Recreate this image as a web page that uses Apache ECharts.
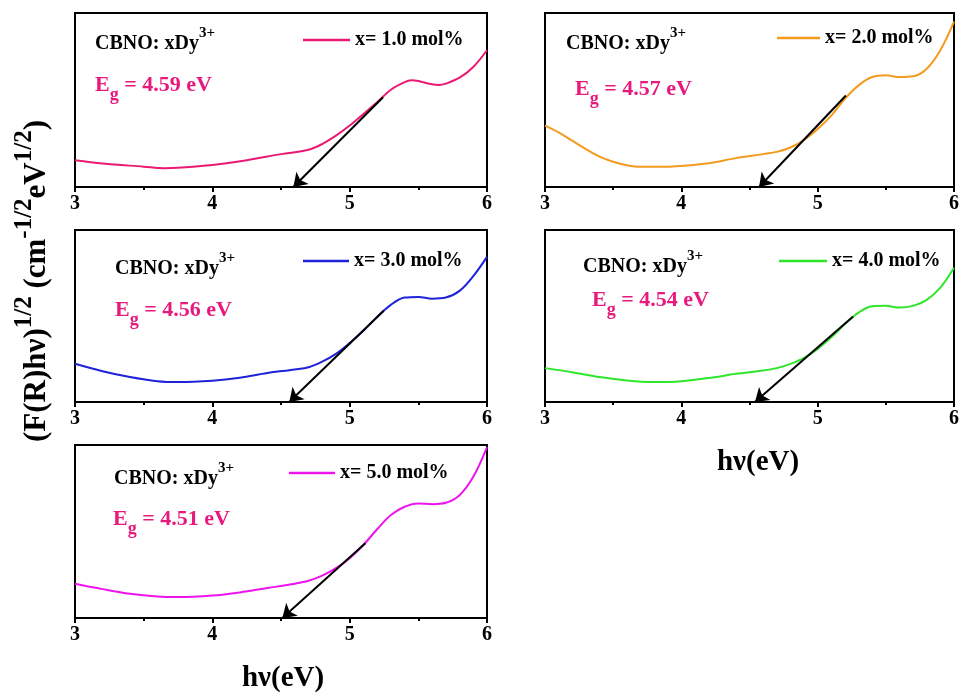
<!DOCTYPE html>
<html>
<head>
<meta charset="utf-8">
<script src="https://cdn.jsdelivr.net/npm/echarts@6/dist/echarts.min.js"></script>
<style>
  html, body { margin: 0; padding: 0; background: #ffffff; }
  #chart { width: 962px; height: 693px; }
</style>
</head>
<body>
<div id="chart"></div>
<script>
// Kubelka-Munk plots, (F(R)hν)^1/2 vs photon energy, for CBNO:xDy3+ phosphors (arbitrary units)
const energy1 = [3.0, 3.2, 3.5, 3.65, 4.0, 4.25, 4.5, 4.7, 4.8, 4.9, 5.0, 5.1, 5.2, 5.3, 5.4, 5.45, 5.5, 5.6, 5.65, 5.7, 5.8, 5.9, 6.0];
const kmf1    = [0.154, 0.135, 0.117, 0.108, 0.127, 0.154, 0.189, 0.214, 0.247, 0.295, 0.353, 0.420, 0.487, 0.559, 0.603, 0.613, 0.609, 0.590, 0.586, 0.594, 0.628, 0.690, 0.786];

const energy2 = [3.0, 3.1, 3.2, 3.3, 3.4, 3.5, 3.6, 3.7, 3.9, 4.0, 4.2, 4.4, 4.6, 4.7, 4.8, 4.9, 5.0, 5.1, 5.2, 5.3, 5.4, 5.5, 5.6, 5.7, 5.8, 5.9, 6.0];
const kmf2    = [0.353, 0.314, 0.266, 0.218, 0.175, 0.145, 0.125, 0.116, 0.116, 0.121, 0.137, 0.166, 0.189, 0.202, 0.227, 0.270, 0.333, 0.410, 0.507, 0.584, 0.632, 0.642, 0.632, 0.636, 0.680, 0.786, 0.950];

const energy3 = [3.0, 3.2, 3.4, 3.6, 3.75, 4.0, 4.2, 4.4, 4.6, 4.7, 4.8, 4.9, 5.0, 5.1, 5.2, 5.3, 5.4, 5.5, 5.6, 5.7, 5.8, 5.9, 6.0];
const kmf3    = [0.222, 0.179, 0.145, 0.121, 0.116, 0.124, 0.141, 0.168, 0.189, 0.202, 0.235, 0.280, 0.343, 0.414, 0.495, 0.565, 0.607, 0.611, 0.601, 0.607, 0.646, 0.732, 0.844];

const energy4 = [3.0, 3.2, 3.4, 3.6, 3.8, 4.0, 4.2, 4.4, 4.6, 4.7, 4.8, 4.9, 5.0, 5.1, 5.2, 5.3, 5.4, 5.5, 5.6, 5.7, 5.8, 5.9, 6.0];
const kmf4    = [0.197, 0.173, 0.145, 0.125, 0.116, 0.121, 0.139, 0.164, 0.183, 0.197, 0.222, 0.257, 0.309, 0.376, 0.453, 0.520, 0.557, 0.559, 0.549, 0.559, 0.594, 0.665, 0.780];

const energy5 = [3.0, 3.2, 3.4, 3.6, 3.75, 4.0, 4.2, 4.4, 4.6, 4.7, 4.8, 4.9, 5.0, 5.1, 5.2, 5.3, 5.4, 5.5, 5.6, 5.7, 5.8, 5.9, 6.0];
const kmf5    = [0.198, 0.167, 0.140, 0.124, 0.121, 0.130, 0.148, 0.173, 0.198, 0.215, 0.245, 0.288, 0.346, 0.422, 0.513, 0.595, 0.643, 0.662, 0.658, 0.666, 0.710, 0.816, 0.988];

const seriesNames = ['x= 1.0 mol%', 'x= 2.0 mol%', 'x= 3.0 mol%', 'x= 4.0 mol%', 'x= 5.0 mol%'];
const bandGaps = [4.59, 4.57, 4.56, 4.54, 4.51];            // eV, where the linear edge meets the axis
const edgeTop = [[5.243, 0.516], [5.207, 0.526], [5.248, 0.530], [5.260, 0.497], [5.114, 0.432]];
const xTickValues = [3, 4, 5, 6];

const energies = [energy1, energy2, energy3, energy4, energy5];
const kmValues = [kmf1, kmf2, kmf3, kmf4, kmf5];

// panel styling
const SERIF = '"Times New Roman", "Liberation Serif", serif';
const lineColors = ['#ea1a73', '#f49b1f', '#1f22d8', '#2ee62a', '#ee14ee'];
const egColor = '#e8197d';
const panels = [
  { left: 75,  top: 13,  width: 412, height: 174 },
  { left: 545, top: 13,  width: 410, height: 174 },
  { left: 75,  top: 230, width: 412, height: 172 },
  { left: 545, top: 230, width: 410, height: 172 },
  { left: 75,  top: 445, width: 412, height: 173 }
];
const legendPos = [
  { left: 303, y: 40,  w: 47 },
  { left: 777, y: 38,  w: 43 },
  { left: 303, y: 261, w: 46 },
  { left: 779, y: 261, w: 48 },
  { left: 289, y: 473, w: 46 }
];
const hostPos = [[95, 44], [566, 44], [115, 269], [583, 267], [114, 479]];
const egPos   = [[95, 85], [575, 89], [115, 310], [592, 300], [113, 519]];

const grid = [], xAxis = [], yAxis = [], series = [], legend = [], graphic = [];

panels.forEach((p, i) => {
  grid.push({
    left: p.left, top: p.top, width: p.width, height: p.height,
    show: true, borderColor: '#000', borderWidth: 2, containLabel: false
  });
  xAxis.push({
    gridIndex: i, type: 'value', min: xTickValues[0], max: xTickValues[xTickValues.length - 1], interval: 1,
    axisLine: { show: true, onZero: false, lineStyle: { color: '#000', width: 2 } },
    axisTick: { show: true, inside: false, length: 5, lineStyle: { color: '#000', width: 2 } },
    minorTick: { show: true, splitNumber: 2, length: 3, lineStyle: { color: '#000', width: 2 } },
    axisLabel: { show: true, margin: 7, color: '#000', fontFamily: SERIF, fontWeight: 'bold', fontSize: 20 },
    splitLine: { show: false }
  });
  yAxis.push({
    gridIndex: i, type: 'value', min: 0, max: 1,
    axisLine: { show: true, lineStyle: { color: '#000', width: 2 } },
    axisTick: { show: false }, axisLabel: { show: false }, splitLine: { show: false }
  });
  series.push({
    name: seriesNames[i], type: 'line', xAxisIndex: i, yAxisIndex: i,
    data: energies[i].map((e, k) => [e, kmValues[i][k]]),
    smooth: 0.35, symbol: 'none', animation: false,
    lineStyle: { color: lineColors[i], width: 2 },
    itemStyle: { color: lineColors[i] },
    markLine: {
      silent: true, animation: false,
      symbol: ['none', 'arrow'], symbolSize: 13,
      label: { show: false },
      lineStyle: { color: '#000', width: 2, type: 'solid' },
      data: [[{ coord: edgeTop[i] }, { coord: [bandGaps[i], 0] }]]
    }
  });
  const lp = legendPos[i];
  legend.push({
    data: [seriesNames[i]], left: lp.left, top: lp.y - 10, padding: 0,
    icon: 'rect', itemWidth: lp.w, itemHeight: 2.5, selectedMode: false,
    textStyle: { color: '#000', fontFamily: SERIF, fontWeight: 'bold', fontSize: 20 }
  });
  graphic.push({
    type: 'text', x: hostPos[i][0], y: hostPos[i][1], silent: true,
    style: {
      text: '{m|CBNO: xDy}{s|3+}', verticalAlign: 'middle', align: 'left',
      rich: {
        m: { fontFamily: SERIF, fontWeight: 'bold', fontSize: 20, fill: '#000', color: '#000', lineHeight: 36 },
        s: { fontFamily: SERIF, fontWeight: 'bold', fontSize: 15, fill: '#000', color: '#000', lineHeight: 15, verticalAlign: 'top' }
      }
    }
  });
  graphic.push({
    type: 'text', x: egPos[i][0], y: egPos[i][1], silent: true,
    style: {
      text: '{m|E}{b|g}{m| = ' + bandGaps[i].toFixed(2) + ' eV}', verticalAlign: 'middle', align: 'left',
      rich: {
        m: { fontFamily: SERIF, fontWeight: 'bold', fontSize: 22, fill: egColor, color: egColor, lineHeight: 38 },
        b: { fontFamily: SERIF, fontWeight: 'bold', fontSize: 18, fill: egColor, color: egColor, lineHeight: 18, verticalAlign: 'bottom' }
      }
    }
  });
});

// axis titles
const titleFont = { fontFamily: SERIF, fontWeight: 'bold', fill: '#000', color: '#000' };
graphic.push({
  type: 'text', x: 283, y: 679, silent: true,
  style: Object.assign({ text: 'hν(eV)', fontSize: 29, align: 'center', verticalAlign: 'middle' }, titleFont)
});
graphic.push({
  type: 'text', x: 758, y: 463, silent: true,
  style: Object.assign({ text: 'hν(eV)', fontSize: 29, align: 'center', verticalAlign: 'middle' }, titleFont)
});
graphic.push({
  type: 'text', x: 37, y: 281, rotation: Math.PI / 2, silent: true,
  style: {
    text: '{m|(F(R)hν)}{s|1/2}{m| (cm}{s|-1/2}{m|eV}{s|1/2}{m|)}',
    align: 'center', verticalAlign: 'middle',
    rich: {
      m: Object.assign({ fontSize: 31, lineHeight: 50 }, titleFont),
      s: Object.assign({ fontSize: 25, lineHeight: 25, verticalAlign: 'top' }, titleFont)
    }
  }
});

const chart = echarts.init(document.getElementById('chart'), null, { renderer: 'canvas' });
chart.setOption({
  animation: false,
  backgroundColor: '#ffffff',
  grid, xAxis, yAxis, series, legend, graphic
});
</script>
</body>
</html>
